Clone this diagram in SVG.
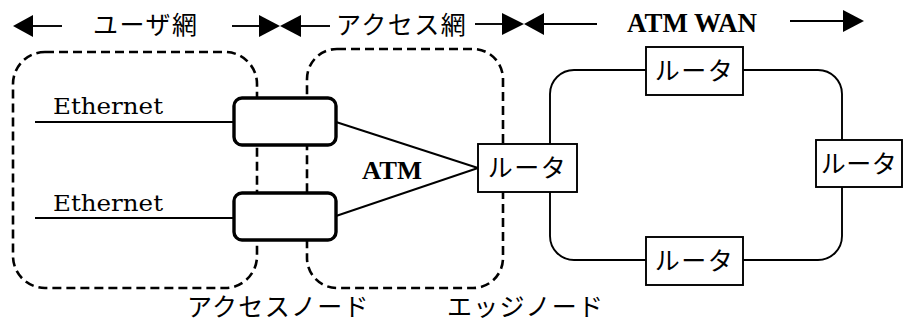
<svg xmlns="http://www.w3.org/2000/svg" width="914" height="325" viewBox="0 0 914 325">
<style>
.jp{font-family:"Noto Sans CJK JP","Noto Sans",sans-serif;font-size:25px;fill:#000;font-weight:normal}
.ser{font-family:"DejaVu Serif","Liberation Serif",serif;font-size:23px;fill:#000}
.bold{font-family:"Liberation Serif",serif;font-weight:bold;fill:#000}
.dash{fill:none;stroke:#000;stroke-width:2.6;stroke-dasharray:9 5}
.ln{fill:none;stroke:#000;stroke-width:1.9}
.tri{fill:#000}
.acc{fill:#fff;stroke:#000;stroke-width:3.4}
.rt{fill:#fff;stroke:#000;stroke-width:1.9}
</style>
<rect width="914" height="325" fill="#fff"/>

<g id="scale">
  <line class="ln" x1="30" y1="26" x2="62" y2="26"/>
  <polygon class="tri" points="13,26 33,15 33,37"/>
  <text class="jp" x="93" y="34" letter-spacing="1.5">ユーザ網</text>
  <line class="ln" x1="232" y1="26" x2="262" y2="26"/>
  <polygon class="tri" points="259,15 259,37 280,26"/>
  <polygon class="tri" points="301,15 301,37 280,26"/>
  <line class="ln" x1="299" y1="26" x2="330" y2="26"/>
  <text class="jp" x="336" y="34" letter-spacing="1.5">アクセス網</text>
  <line class="ln" x1="475" y1="24" x2="505" y2="24"/>
  <polygon class="tri" points="502,13 502,35 524,24"/>
  <polygon class="tri" points="544,13 544,35 524,24"/>
  <line class="ln" x1="542" y1="24" x2="597" y2="24"/>
  <text class="bold" x="627" y="32" font-size="28" textLength="130" lengthAdjust="spacingAndGlyphs">ATM WAN</text>
  <line class="ln" x1="790" y1="21" x2="846" y2="21"/>
  <polygon class="tri" points="843,10 843,32 864,21"/>
</g>

<g id="user-network">
  <rect class="dash" x="13" y="52" width="244" height="236" rx="32" ry="32"/>
</g>
<g id="access-network">
  <rect class="dash" x="307" y="49" width="196" height="239" rx="30" ry="30"/>
</g>

<g id="connectors">
  <line class="ln" x1="35" y1="122" x2="234" y2="122"/>
  <line class="ln" x1="35" y1="218" x2="234" y2="218"/>
  <line class="ln" x1="336" y1="122" x2="478" y2="168"/>
  <line class="ln" x1="336" y1="216" x2="478" y2="168"/>
  <rect class="ln" x="550" y="70" width="292" height="190" rx="24" ry="24"/>
</g>

<g id="ethernet-labels">
  <text class="ser" x="53" y="114" textLength="110" lengthAdjust="spacingAndGlyphs">Ethernet</text>
  <text class="ser" x="53" y="211" textLength="110" lengthAdjust="spacingAndGlyphs">Ethernet</text>
</g>

<g id="access-node-1">
  <rect class="acc" x="234" y="98" width="102" height="47" rx="8" ry="8"/>
</g>
<g id="access-node-2">
  <rect class="acc" x="234" y="193" width="102" height="47" rx="8" ry="8"/>
</g>

<g id="atm-label">
  <text class="bold" x="362" y="179" font-size="26" textLength="60" lengthAdjust="spacingAndGlyphs">ATM</text>
</g>

<g id="edge-router">
  <rect class="rt" x="478" y="144" width="99" height="48"/>
  <text class="jp" x="527.5" y="177" text-anchor="middle" letter-spacing="1.5">ルータ</text>
</g>
<g id="router-top">
  <rect class="rt" x="646" y="47" width="97" height="48"/>
  <text class="jp" x="694.5" y="80" text-anchor="middle" letter-spacing="1.5">ルータ</text>
</g>
<g id="router-right">
  <rect class="rt" x="816" y="140" width="86" height="47"/>
  <text class="jp" x="859" y="172.5" text-anchor="middle" letter-spacing="0.5">ルータ</text>
</g>
<g id="router-bottom">
  <rect class="rt" x="646" y="237" width="97" height="48"/>
  <text class="jp" x="694.5" y="270" text-anchor="middle" letter-spacing="1.5">ルータ</text>
</g>

<g id="bottom-labels">
  <text class="jp" x="187" y="316" letter-spacing="1.3">アクセスノード</text>
  <text class="jp" x="447" y="316" letter-spacing="1.3">エッジノード</text>
</g>
</svg>
